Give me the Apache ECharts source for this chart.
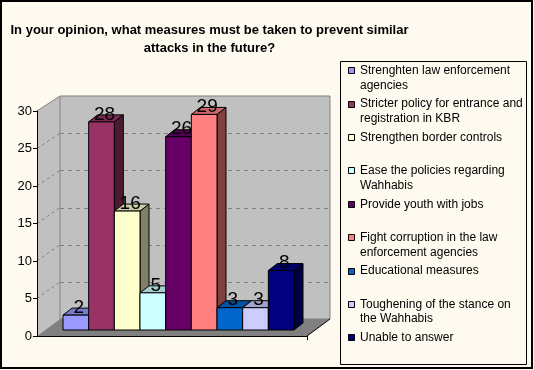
<!DOCTYPE html>
<html><head><meta charset="utf-8">
<script src="https://cdn.jsdelivr.net/npm/echarts@6/dist/echarts.min.js"></script>
<style>html,body{margin:0;padding:0;background:#FFFAF0}#c{width:534px;height:370px}</style>
</head><body><div id="c"></div>
<script>
const titleText = 'In your opinion, what measures must be taken to prevent similar\nattacks in the future?';
const categories = [
  'Strenghten law enforcement\nagencies',
  'Stricter policy for entrance and\nregistration in KBR',
  'Strengthen border controls',
  'Ease the policies regarding\nWahhabis',
  'Provide youth with jobs',
  'Fight corruption in the law\nenforcement agencies',
  'Educational measures',
  'Toughening of the stance on\nthe Wahhabis',
  'Unable to answer'
];
const values = [2, 28, 16, 5, 26, 29, 3, 3, 8];
const colors = ['#9999FF', '#993366', '#FFFFCC', '#CCFFFF', '#660066', '#FF8080', '#0066CC', '#CCCCFF', '#000080'];
const yTicks = [0, 5, 10, 15, 20, 25, 30];

const FONT = '"Liberation Sans", Arial, sans-serif';
const yMin = yTicks[0], yMax = yTicks[yTicks.length - 1], yStep = yTicks[1] - yTicks[0];

function shade(hex, k) {
  const n = parseInt(hex.slice(1), 16);
  const r = Math.round(((n >> 16) & 255) * k), g = Math.round(((n >> 8) & 255) * k), b = Math.round((n & 255) * k);
  return 'rgb(' + r + ',' + g + ',' + b + ')';
}

const chart = echarts.init(document.getElementById('c'), null, { renderer: 'canvas' });
const DX = 9, DY = -7;

chart.setOption({
  backgroundColor: '#FFFAF0',
  animation: false,
  title: {
    text: titleText, left: 209.5, top: 22, padding: 0, textAlign: 'center',
    textStyle: { fontFamily: FONT, fontSize: 13, fontWeight: 'bold', color: '#000', lineHeight: 17.5 }
  },
  grid: [
    { left: 37, top: 111, width: 270, height: 225 },   // front plane (axes)
    { left: 63, top: 107, width: 231, height: 223 },   // bars plane
    { left: 60, top: 96, width: 270, height: 223 }     // back wall plane
  ],
  xAxis: [
    { gridIndex: 0, type: 'value', min: 0, max: 1, z: 10,
      axisLine: { show: true, lineStyle: { color: '#000', width: 1 } },
      axisTick: { show: true, customValues: [1], length: 4, lineStyle: { color: '#000' } },
      axisLabel: { show: false }, splitLine: { show: false } },
    { gridIndex: 1, type: 'category', data: categories, show: false },
    { gridIndex: 2, type: 'value', min: 0, max: 1, show: false }
  ],
  yAxis: [
    { gridIndex: 0, type: 'value', min: yMin, max: yMax, interval: yStep, z: 10,
      axisLine: { show: true, lineStyle: { color: '#000', width: 1 } },
      axisTick: { show: true, length: 4, lineStyle: { color: '#000' } },
      axisLabel: { fontFamily: FONT, fontSize: 13, color: '#000', margin: 5 },
      splitLine: { show: false } },
    { gridIndex: 1, type: 'value', min: yMin, max: yMax, show: false },
    { gridIndex: 2, type: 'value', min: yMin, max: yMax, show: false }
  ],
  series: [{
    type: 'custom', xAxisIndex: 1, yAxisIndex: 1, z: 3,
    data: values.map((v, i) => [i, v]),
    renderItem: function (params, api) {
      const i = api.value(0), v = api.value(1);
      const p0 = api.coord([i, 0]), p1 = api.coord([i, v]);
      const w = api.size([1, 0])[0];
      const x0 = p0[0] - w / 2, x1 = x0 + w, y0 = p0[1], y1 = p1[1];
      const c = colors[i];
      return {
        type: 'group',
        children: [
          { type: 'polygon', shape: { points: [[x1, y0], [x1 + DX, y0 + DY], [x1 + DX, y1 + DY], [x1, y1]] },
            style: { fill: shade(c, 0.5), stroke: '#000', lineWidth: 1 } },
          { type: 'polygon', shape: { points: [[x0, y1], [x1, y1], [x1 + DX, y1 + DY], [x0 + DX, y1 + DY]] },
            style: { fill: shade(c, 0.8), stroke: '#000', lineWidth: 1 } },
          { type: 'rect', shape: { x: x0, y: y1, width: w, height: y0 - y1 },
            style: { fill: c, stroke: '#000', lineWidth: 1 } },
          { type: 'text', z2: 100,
            style: { x: (x0 + x1) / 2 + 3, y: y1 - 7.5, text: String(v), fontFamily: FONT, fontSize: 19,
              fill: '#000', align: 'center', verticalAlign: 'middle' } }
        ]
      };
    }
  }]
});

// Walls, floor, gridlines, legend and frame built from the axes' own scales
const F = (x, v) => chart.convertToPixel({ xAxisIndex: 0, yAxisIndex: 0 }, [x, v]);
const B = (x, v) => chart.convertToPixel({ xAxisIndex: 2, yAxisIndex: 2 }, [x, v]);
const g = [];
g.push({ type: 'polygon', z: 0, shape: { points: [F(0, yMax), B(0, yMax), B(0, yMin), F(0, yMin)] },
  style: { fill: '#C0C0C0' } });
const b0 = B(0, yMax), b1 = B(1, yMin);
g.push({ type: 'rect', z: 0, shape: { x: b0[0], y: b0[1], width: b1[0] - b0[0], height: b1[1] - b0[1] },
  style: { fill: '#C0C0C0', stroke: '#808080', lineWidth: 1 } });
g.push({ type: 'line', z: 1, shape: { x1: F(0, yMax)[0], y1: F(0, yMax)[1], x2: B(0, yMax)[0], y2: B(0, yMax)[1] },
  style: { stroke: '#808080', lineWidth: 1 } });
yTicks.slice(1, -1).forEach(v => {
  const a = B(0, v), c = B(1, v), f = F(0, v);
  g.push({ type: 'line', z: 1, shape: { x1: a[0], y1: Math.round(a[1]) + 0.5, x2: c[0], y2: Math.round(c[1]) + 0.5 },
    style: { stroke: '#808080', lineWidth: 1, lineDash: [4, 4] } });
  g.push({ type: 'line', z: 1, shape: { x1: f[0], y1: f[1], x2: a[0], y2: a[1] },
    style: { stroke: '#808080', lineWidth: 1, lineDash: [3, 3] } });
});
g.push({ type: 'polygon', z: 1, shape: { points: [F(0, yMin), F(1, yMin), B(1, yMin), B(0, yMin)] },
  style: { fill: '#808080' } });
g.push({ type: 'line', z: 2, shape: { x1: F(1, yMin)[0], y1: F(1, yMin)[1], x2: B(1, yMin)[0], y2: B(1, yMin)[1] },
  style: { stroke: '#000', lineWidth: 1 } });

// legend
g.push({ type: 'rect', z: 5, shape: { x: 340.5, y: 61.5, width: 186, height: 303 },
  style: { fill: 'none', stroke: '#000', lineWidth: 1 } });
categories.forEach((name, i) => {
  const cy = 70.7 + 33.4 * i;
  g.push({ type: 'rect', z: 6, shape: { x: 348.5, y: Math.round(cy - 3.5) + 0.5, width: 6, height: 6 },
    style: { fill: colors[i], stroke: '#000', lineWidth: 1 } });
  g.push({ type: 'text', z: 6, style: { x: 360, y: cy - 7.25, text: name, fontFamily: FONT, fontSize: 12,
    lineHeight: 14.5, fill: '#000', align: 'left', verticalAlign: 'top' } });
});
// outer frame
g.push({ type: 'rect', z: 20, shape: { x: 1, y: 1, width: 531, height: 367 },
  style: { fill: 'none', stroke: '#000', lineWidth: 2 } });

chart.setOption({ graphic: g });
</script></body></html>
